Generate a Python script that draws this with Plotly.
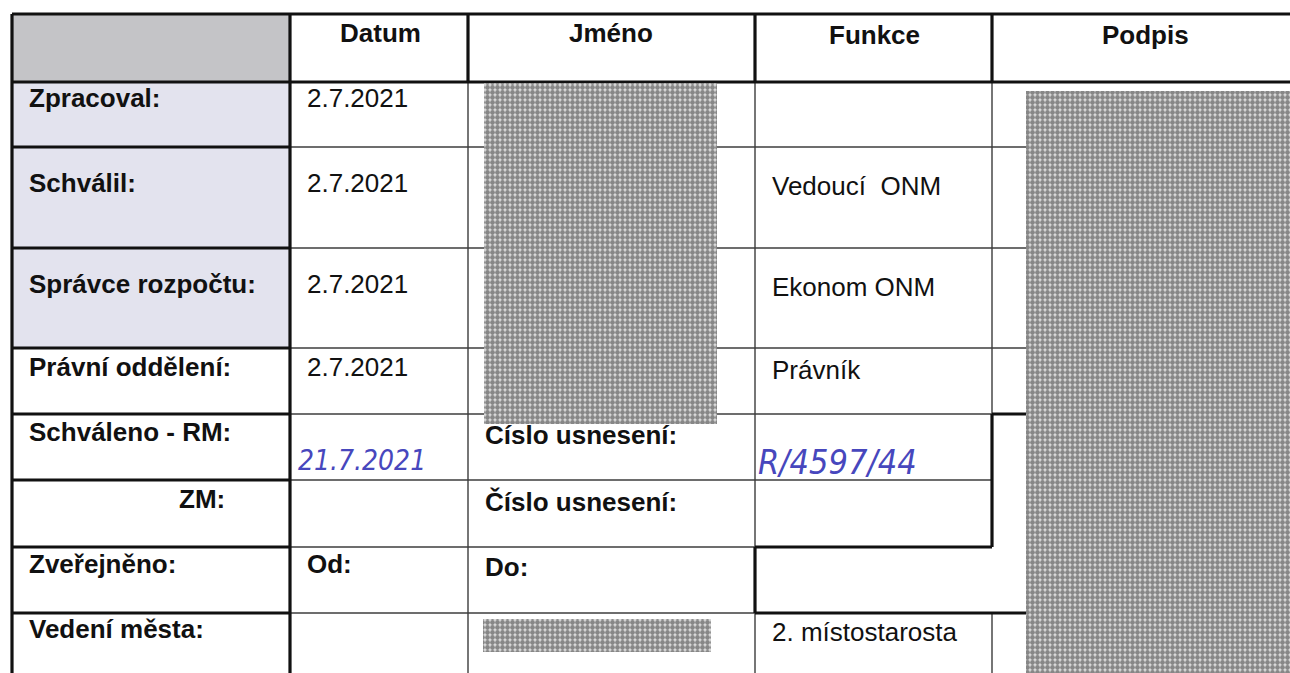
import plotly.graph_objects as go

# ---------------- content ----------------
headers = ["Datum", "Jméno", "Funkce", "Podpis"]
row_labels = ["Zpracoval:", "Schválil:", "Správce rozpočtu:", "Právní oddělení:",
              "Schváleno - RM:", "ZM:", "Zveřejněno:", "Vedení města:"]
datum_values = ["2.7.2021", "2.7.2021", "2.7.2021", "2.7.2021", "", "", "", ""]
datum_bold = ["", "", "", "", "", "", "Od:", ""]
jmeno_bold = ["", "", "", "", "Císlo usnesení:", "Číslo usnesení:", "Do:", ""]
funkce_values = ["", "Vedoucí  ONM", "Ekonom ONM", "Právník", "", "", "", "2. místostarosta"]
handwritten_date = "21.7.2021"
handwritten_number = "R/4597/44"

# ---------------- geometry (page pixels) ----------------
PAGE_W, PAGE_H = 1290, 673
col_edges = [12, 290, 468, 755, 992, PAGE_W]
row_edges = [14, 82, 147, 248, 348, 414, 480, 547, 613, PAGE_H]
text_y = [98, 183, 284, 367, 432, 499, 564, 629]
header_y = 33
header_x = [380, 611, 874, 1145]

FONT = "Liberation Sans, Arial, sans-serif"
BLACK = "#111111"
THIN = "#3c3c3c"
BLUE = "#4747bd"

fig = go.Figure()
shapes = []


def rect(x0, y0, x1, y1, color):
    shapes.append(dict(type="rect", xref="x", yref="y", x0=x0, y0=y0, x1=x1, y1=y1,
                       fillcolor=color, line=dict(width=0), layer="below"))


def line(x0, y0, x1, y1, w, color):
    shapes.append(dict(type="line", xref="x", yref="y", x0=x0, y0=y0, x1=x1, y1=y1,
                       line=dict(color=color, width=w), layer="below"))


# shaded cells
rect(col_edges[0], row_edges[0], col_edges[1], row_edges[1], "#c4c4c7")
rect(col_edges[0], row_edges[1], col_edges[1], row_edges[4], "#e3e3ee")

TK, TN = 3.2, 1.4
c0, c1, c2, c3, c4, c5 = col_edges
r = row_edges
H = r[-1]

# thin inner grid
for y in r[2:5]:
    line(c1, y, c5, y, TN, THIN)
line(c1, r[5], c4, r[5], TN, THIN)
line(c1, r[6], c4, r[6], TN, THIN)
line(c1, r[7], c3, r[7], TN, THIN)
line(c1, r[8], c3, r[8], TN, THIN)
line(c2, r[1], c2, H, TN, THIN)
line(c3, r[1], c3, r[7], TN, THIN)
line(c3, r[8], c3, H, TN, THIN)
line(c4, r[1], c4, r[5], TN, THIN)
line(c4, r[8], c4, H, TN, THIN)

# thick borders
line(c0, r[0], c5, r[0], TK, BLACK)
line(c0, r[1], c5, r[1], TK, BLACK)
line(c0, r[0], c0, H, TK, BLACK)
line(c1, r[0], c1, H, TK, BLACK)
for x in (c2, c3, c4):
    line(x, r[0], x, r[1], TK, BLACK)
for y in r[2:9]:
    line(c0, y, c1, y, TK, BLACK)
line(c4, r[5], c5, r[5], TK, BLACK)
line(c4, r[5], c4, r[7], TK, BLACK)
line(c3, r[7], c4, r[7], TK, BLACK)
line(c3, r[7], c3, r[8], TK, BLACK)
line(c3, r[8], c5, r[8], TK, BLACK)

# redaction patches (textured fills drawn over the grid)
patches = [(484, 83, 717, 424), (1026, 91, c5, H), (483, 619, 711, 652)]
for (x0, y0, x1, y1) in patches:
    fig.add_trace(go.Scatter(
        x=[x0, x1, x1, x0, x0], y=[y0, y0, y1, y1, y0], mode="lines",
        line=dict(width=0), fill="toself", fillcolor="#a8a8a8",
        fillpattern=dict(shape=".", size=5, solidity=0.72,
                         fgcolor="#2c2c2c", bgcolor="#e2e2e2"),
        hoverinfo="skip", showlegend=False))

ann = []


def text(x, y, s, bold=False, anchor="left", size=26, color=BLACK, italic=False, family=FONT):
    if not s:
        return
    ann.append(dict(x=x, y=y, xref="x", yref="y", text=f"<b>{s}</b>" if bold else s,
                    showarrow=False, xanchor=anchor, yanchor="middle",
                    font=dict(family=family, size=size, color=color,
                              style="italic" if italic else "normal")))


for hx, h in zip(header_x, headers):
    text(hx, header_y + (2 if hx > 700 else 0), h, bold=True, anchor="center")

for i, lab in enumerate(row_labels):
    if lab == "ZM:":
        text(227, text_y[i], lab, bold=True, anchor="right")
    else:
        text(27, text_y[i], lab, bold=True)
    text(305, text_y[i], datum_values[i])
    text(305, text_y[i], datum_bold[i], bold=True)
    text(483, text_y[i] + 3, jmeno_bold[i], bold=True)
    text(770, text_y[i] + 3, funkce_values[i])

HAND = "DejaVu Sans Condensed, Liberation Sans Narrow, sans-serif"
text(296, 460, handwritten_date, color=BLUE, size=28, italic=True, family=HAND)
text(756, 462, handwritten_number, color=BLUE, size=34, italic=True, family=HAND)

fig.update_layout(
    width=PAGE_W, height=PAGE_H, margin=dict(l=0, r=0, t=0, b=0),
    paper_bgcolor="white", plot_bgcolor="white",
    xaxis=dict(range=[0, PAGE_W], visible=False, fixedrange=True),
    yaxis=dict(range=[PAGE_H, 0], visible=False, fixedrange=True),
    shapes=shapes, annotations=ann, showlegend=False,
)
fig.write_html(
    "out.html",
    config={"displayModeBar": False, "staticPlot": True},
    post_script="document.body.style.margin='0';document.body.style.overflow='hidden';",
)
